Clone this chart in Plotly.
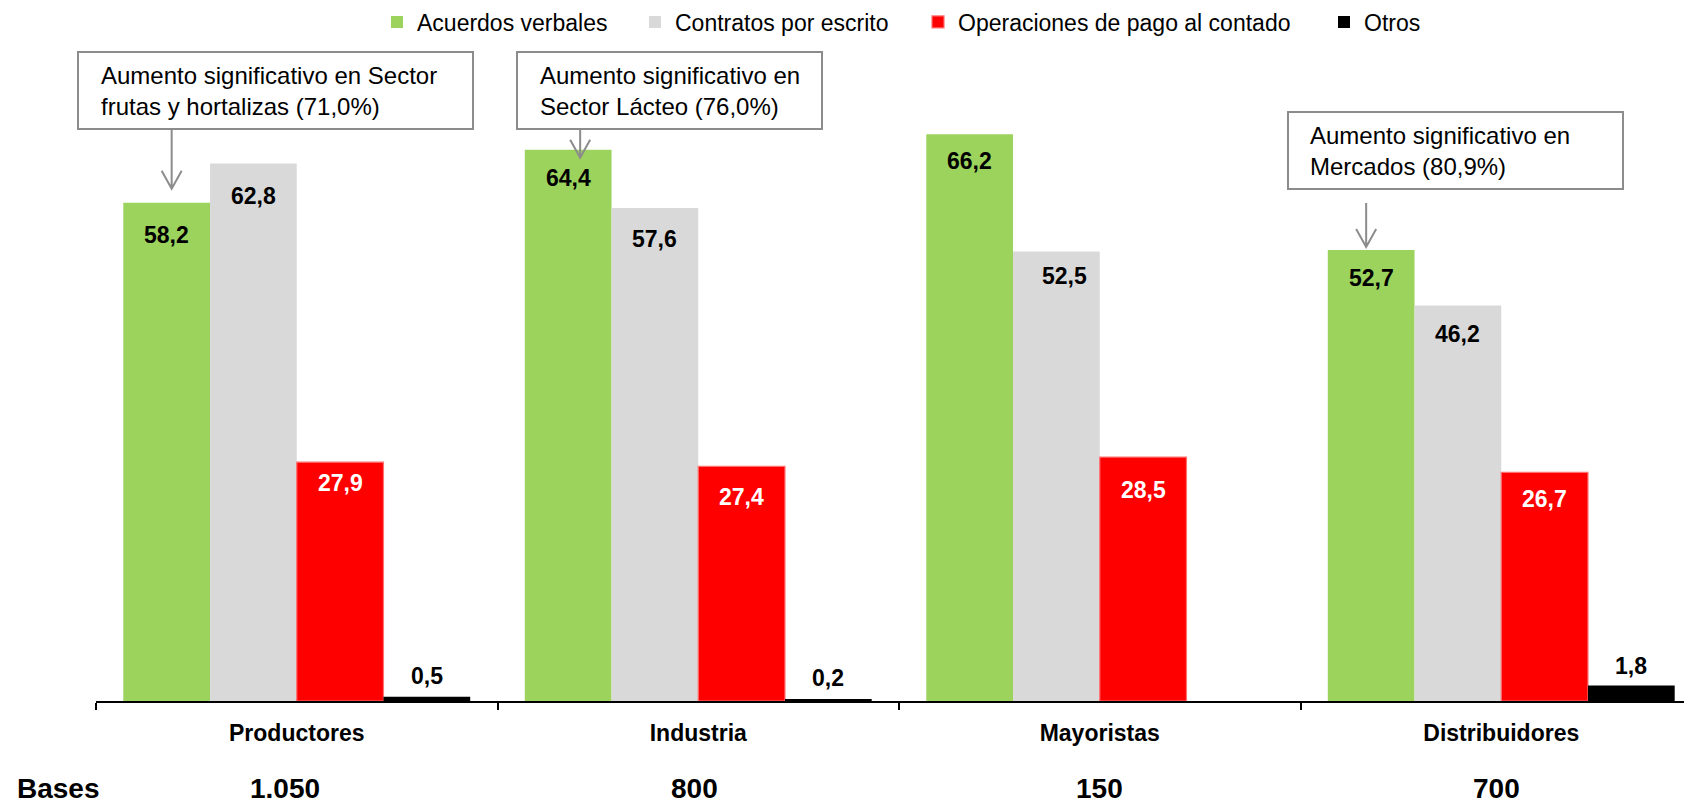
import plotly.graph_objects as go

# ---------------- data ----------------
categories = ["Productores", "Industria", "Mayoristas", "Distribuidores"]
bases = ["1.050", "800", "150", "700"]
series_names = ["Acuerdos verbales", "Contratos por escrito",
                "Operaciones de pago al contado", "Otros"]
acuerdos = [58.2, 64.4, 66.2, 52.7]
contratos = [62.8, 57.6, 52.5, 46.2]
operaciones = [27.9, 27.4, 28.5, 26.7]
otros = [0.5, 0.2, None, 1.8]
callout_texts = ["Aumento significativo en Sector<br>frutas y hortalizas (71,0%)",
                 "Aumento significativo en<br>Sector Lácteo (76,0%)",
                 "Aumento significativo en<br>Mercados (80,9%)"]
callout_cats = ["Productores", "Industria", "Distribuidores"]

# ---------------- style / layout ----------------
FONT = "Liberation Sans, Arial, sans-serif"
colors = ["#9BD35C", "#D9D9D9", "#FF0000", "#000000"]
label_colors = ["#000000", "#000000", "#FFFFFF", "#000000"]
# vertical pixel offsets of each data label relative to the bar top
label_dy = [[-32, -28, -27, -28],
            [-33, -31, -24, -28],
            [-21, -31, -33, -27],
            [21, 21, 21, 20]]
label_dx = [[0, 0, 0, 0], [0, 0, 8, 0], [0, 0, 0, 0], [0, 0, 0, 0]]
W, H = 1684, 803
ML, MR, MT, MB = 96, 0, 50, 102
PW, PH = W - ML - MR, H - MT - MB
CAT_W = 401.5          # px per category
PX_PER_UNIT = 8.56     # px per percentage point
BARGAP = 0.136
bw = (1 - BARGAP) / 4


def px_x(px):
    return (px - ML) / PW


def px_y(py):
    return (MT + PH - py) / PH


series = [acuerdos, contratos, operaciones, otros]
fig = go.Figure()
for k, (name, vals) in enumerate(zip(series_names, series)):
    line = dict(width=0)
    if k == 2:
        line = dict(width=1.2, color="#FF7070")
    fig.add_trace(go.Bar(
        x=categories, y=vals, name=name,
        marker=dict(color=colors[k], line=line),
        legend="legend" if k == 0 else f"legend{k + 1}",
        hoverinfo="skip",
    ))

annotations = []
shapes = []

# data labels
for k, vals in enumerate(series):
    for i, v in enumerate(vals):
        if v is None:
            continue
        annotations.append(dict(
            x=i + (k - 1.5) * bw, y=v, xref="x", yref="y",
            text=f"{v:.1f}".replace(".", ","), showarrow=False,
            yanchor="middle", yshift=label_dy[k][i], xshift=label_dx[k][i],
            font=dict(family=FONT, size=23, color=label_colors[k], weight="bold"),
        ))

# bases row
annotations.append(dict(
    x=px_x(15), y=0, xref="paper", yref="paper", xanchor="left", yanchor="middle",
    yshift=-87, text="Bases", showarrow=False,
    font=dict(family=FONT, size=28, color="#000000", weight="bold")))
for i, b in enumerate(bases):
    annotations.append(dict(
        x=categories[i], y=0, xref="x", yref="paper", yanchor="middle",
        yshift=-87, xshift=[-12, -4, 0, -5][i], text=b, showarrow=False,
        font=dict(family=FONT, size=28, color="#000000", weight="bold")))

# callout boxes (pixel geometry)
boxes = [(78, 473, 52, 129, 99), (517, 822, 52, 129, 538), (1288, 1623, 112, 189, 1308)]
for (l, r, t, b, tx), txt in zip(boxes, callout_texts):
    shapes.append(dict(type="rect", xref="paper", yref="paper",
                       x0=px_x(l), x1=px_x(r), y0=px_y(b), y1=px_y(t),
                       line=dict(color="#8C8C8C", width=2), fillcolor="white", layer="above"))
    annotations.append(dict(
        x=px_x(tx), y=px_y((t + b) / 2), xref="paper", yref="paper",
        xanchor="left", yanchor="middle", align="left", text=txt, showarrow=False,
        font=dict(family=FONT, size=24, color="#000000")))

# arrows pointing at green bars (pixel offsets relative to bar top)
arrow_geo = [(5, 14, 73), (12, -8, 20), (-5, 3, 47)]
for cat, (dx, tip, start) in zip(callout_cats, arrow_geo):
    i = categories.index(cat)
    shapes.append(dict(
        type="path", xref="x", yref="y", xsizemode="pixel", ysizemode="pixel",
        xanchor=i - 1.5 * bw, yanchor=acuerdos[i],
        path=(f"M {dx},{start} L {dx},{tip} "
              f"M {dx - 10},{tip + 18} L {dx},{tip} L {dx + 10},{tip + 18}"),
        line=dict(color="#8C8C8C", width=2), layer="above"))

# legends: one per series, positioned along the top
legend_text_x = [419, 677, 960, 1366]
legend_common = dict(orientation="h", xref="container", yref="container",
                     y=1 - 22 / H, yanchor="middle", xanchor="left",
                     font=dict(family=FONT, size=23, color="#000000"),
                     bgcolor="rgba(0,0,0,0)", borderwidth=0, itemwidth=30)
legends = {}
for k in range(4):
    key = "legend" if k == 0 else f"legend{k + 1}"
    legends[key] = dict(legend_common, x=(legend_text_x[k] - 42) / W)

fig.update_layout(
    width=W, height=H,
    margin=dict(l=ML, r=MR, t=MT, b=MB, pad=0),
    paper_bgcolor="white", plot_bgcolor="white",
    barmode="group", bargap=BARGAP, bargroupgap=0,
    showlegend=True,
    font=dict(family=FONT, color="#000000"),
    xaxis=dict(
        type="category", range=[-0.5, -0.5 + PW / CAT_W],
        showline=True, linecolor="#000000", linewidth=1.5,
        ticks="outside", tickson="boundaries", ticklen=7, tickwidth=1.5, tickcolor="#000000",
        ticklabelstandoff=11,
        tickfont=dict(family=FONT, size=23, color="#000000", weight="bold"),
        showgrid=False, zeroline=False, fixedrange=True,
    ),
    yaxis=dict(range=[0, PH / PX_PER_UNIT], visible=False, showgrid=False,
               zeroline=False, fixedrange=True),
    annotations=annotations,
    shapes=shapes,
    **legends,
)

fig.write_html("out.html")
